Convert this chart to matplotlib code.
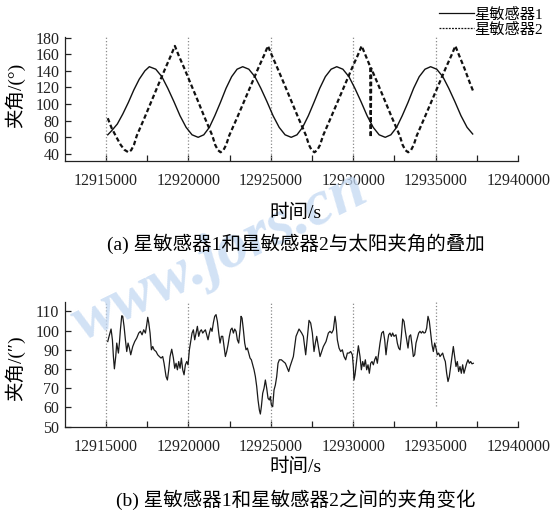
import numpy as np
import matplotlib
matplotlib.use('Agg')
from matplotlib import pyplot as plt
from matplotlib.lines import Line2D
from matplotlib.ticker import MultipleLocator, FuncFormatter

plt.rcParams['font.family'] = ['Liberation Serif', 'Noto Sans CJK SC']
plt.rcParams['axes.unicode_minus'] = False

# (a) star sensor 1 angle to sun
t1 = [12915120, 12915360, 12915700, 12916030, 12916370, 12916700, 12917030, 12917370, 12917640,
      12918030, 12918400, 12918760, 12919130, 12919500, 12919870, 12920230, 12920600,
      12920940, 12921280, 12921610, 12921950, 12922290, 12922630, 12922960, 12923300,
      12923670, 12924040, 12924400, 12924770, 12925140, 12925510, 12925870, 12926240,
      12926590, 12926930, 12927280, 12927620, 12927970, 12928310, 12928660, 12929000,
      12929370, 12929740, 12930100, 12930470, 12930840, 12931210, 12931570, 12931940,
      12932280, 12932630, 12932970, 12933320, 12933660, 12934000, 12934350, 12934690,
      12935060, 12935430, 12935790, 12936160, 12936530, 12936900, 12937240]
s1 = [63, 68, 76, 88, 102, 117, 130, 140, 145,
      142, 133, 119, 103, 86, 72, 63, 60,
      63, 72, 86, 102, 119, 133, 142, 145,
      142, 133, 119, 103, 86, 72, 63, 60,
      63, 72, 86, 102, 119, 133, 142, 145,
      142, 133, 119, 103, 86, 72, 63, 60,
      63, 72, 86, 102, 119, 133, 142, 145,
      142, 133, 119, 103, 86, 72, 64]

# (a) star sensor 2 angle to sun
t2 = [12915120, 12915360, 12915650, 12915900, 12916130, 12916370,
      12916540, 12916710, 12916880, 12917360, 12917780, 12918200, 12918630, 12918960, 12919190,
      12919410, 12919740, 12920160, 12920580, 12920990, 12921460, 12921630, 12921800, 12921960,
      12922130, 12922300, 12922480, 12922970, 12923400, 12923830, 12924260, 12924600, 12924830,
      12925060, 12925390, 12925820, 12926240, 12926660, 12927140, 12927310, 12927480, 12927650,
      12927820, 12927990, 12928170, 12928650, 12929080, 12929510, 12929940, 12930280, 12930510,
      12930740, 12931030, 12931060, 12931090, 12931500, 12931920, 12932340, 12932820, 12932990,
      12933160, 12933330,
      12933500, 12933670, 12933850, 12934330, 12934760, 12935190, 12935620, 12935960, 12936190,
      12936410, 12936740, 12937060, 12937280]
s2 = [83, 71, 60, 51, 45, 42,
      44.5, 51, 62, 84, 104, 124, 144, 159, 170,
      159, 144, 124, 104, 84, 62, 51, 44.5, 42,
      44.5, 51, 62, 84, 104, 124, 144, 159, 170,
      159, 144, 124, 104, 84, 62, 51, 44.5, 42,
      44.5, 51, 62, 84, 104, 124, 144, 159, 170,
      159, 145, 60, 143, 124, 104, 84, 62, 51,
      44.5, 42,
      44.5, 51, 62, 84, 104, 124, 144, 159, 170,
      159, 143, 126, 115]

# (b) angle between the two sensors, offsets from 12915000 s
t3_off = [120, 200, 321, 402, 463, 523, 604, 665, 766, 826, 887, 968, 1028, 1109, 1190,
          1271, 1351, 1432, 1513, 1634, 1755, 1877, 1998, 2099, 2200, 2301, 2402, 2483,
          2543, 2604, 2685, 2765, 2846, 2927, 3048, 3149, 3250, 3351, 3452, 3533, 3654,
          3735, 3816, 3897, 3998, 4099, 4179, 4260, 4341, 4422, 4503, 4583, 4664, 4745,
          4826, 4907, 4987, 5068, 5149, 5230, 5311, 5391, 5472, 5553, 5634, 5715, 5795,
          5876, 5957, 6038, 6119, 6199, 6280, 6361, 6442, 6523, 6603, 6684, 6765, 6846,
          6927, 7007, 7088, 7169, 7250, 7331, 7411, 7492, 7573, 7654, 7735, 7815, 7896,
          7977, 8058, 8139, 8199, 8260, 8341, 8421, 8502, 8583, 8664, 8745, 8825, 8906,
          8987, 9068, 9149, 9229, 9310, 9371, 9431, 9512, 9593, 9674, 9755, 9835, 9916,
          9977, 10037, 10118, 10199, 10280, 10361, 10441, 10522, 10643, 10765, 10886,
          11007, 11088, 11169, 11371, 11532, 11714, 11876, 11977, 12118, 12320, 12421,
          12522, 12623, 12704, 12785, 12886, 12987, 13088, 13189, 13350, 13492, 13593,
          13694, 13795, 13896, 13956, 14037, 14138, 14239, 14340, 14441, 14542, 14643,
          14744, 14845, 14946, 15007, 15047, 15108, 15209, 15310, 15411, 15492, 15572,
          15653, 15734, 15815, 15895, 15976, 16057, 16138, 16219, 16299, 16380, 16461,
          16542, 16623, 16724, 16825, 16906, 16986, 17067, 17148, 17229, 17310, 17390,
          17471, 17592, 17673, 17754, 17835, 17916, 17996, 18077, 18158, 18239, 18320,
          18401, 18481, 18562, 18643, 18724, 18804, 18885, 18966, 19047, 19128, 19208,
          19289, 19370, 19451, 19532, 19612, 19693, 19774, 19855, 19936, 20016, 20097,
          20178, 20259, 20340, 20420, 20501, 20582, 20663, 20744, 20824, 20905, 20986,
          21067, 21148, 21228, 21309, 21390, 21471, 21552, 21632, 21713, 21794, 21875,
          21956, 22036, 22117, 22198, 22279]
s3 = [94.3, 97.0, 100.8, 95.2, 86.5, 80.1, 86.5, 93.5, 88.3, 93.5, 100.4, 107.7, 107.4, 102.2, 95.2,
      89.1, 93.5, 90.9, 87.4, 91.7, 94.3, 96.1, 98.7, 99.6, 97.8, 100.4, 98.7, 103.0,
      106.9, 104.1, 98.7, 90.0, 91.7, 90.0, 89.1, 87.4, 86.5, 85.7, 86.5, 83.0, 76.1,
      74.3, 79.6, 86.5, 90.3, 85.7, 80.4, 83.0, 79.6, 83.9, 80.4, 85.7, 79.6, 77.0,
      82.2, 83.9, 82.2, 90.0, 94.3, 98.7, 100.4, 95.2, 98.7, 102.2, 97.0, 99.6, 100.4,
      98.7, 99.6, 100.4, 97.8, 95.2, 98.7, 101.3, 99.6, 104.1, 107.4, 108.3, 104.8, 98.7,
      93.5, 97.0, 97.0, 91.7, 86.5, 89.1, 92.6, 97.0, 100.4, 101.3, 98.7, 100.8, 99.6,
      95.2, 93.5, 100.4, 107.4, 106.5, 100.4, 93.5, 90.0, 90.9, 88.3, 85.7, 84.8, 82.2,
      79.6, 76.1, 70.9, 63.9, 58.7, 56.6, 60.4, 67.4, 70.0, 74.3, 70.0, 64.8, 63.9,
      65.7, 61.3, 60.4, 69.1, 71.7, 76.1, 83.0, 84.8, 84.8, 83.9, 83.0,
      80.4, 78.7, 81.3, 86.5, 97.0, 100.8, 98.7, 97.0, 87.4, 105.3, 103.9,
      98.7, 89.1, 93.5, 97.0, 91.7, 86.5, 89.1, 91.7, 94.3, 98.7, 99.6,
      98.7, 100.4, 107.4, 103.9, 95.2, 90.9, 89.1, 90.0, 86.5, 84.8, 88.3,
      88.3, 89.1, 87.4, 81.3, 74.3, 77.0, 84.8, 92.1, 86.5, 79.6, 83.9,
      81.3, 84.8, 79.6, 82.2, 77.8, 83.0, 83.9, 82.2, 84.8, 86.5, 83.0,
      88.3, 93.5, 98.7, 99.6, 95.2, 87.4, 93.5, 97.8, 98.7, 97.0, 98.7,
      97.0, 97.8, 93.5, 90.9, 90.0, 97.0, 106.0, 104.8, 99.6, 95.2, 90.9,
      97.0, 97.8, 92.6, 86.5, 87.4, 93.5, 96.1, 98.7, 99.6, 98.7, 99.6,
      98.7, 99.0, 101.3, 107.4, 104.8, 98.7, 92.6, 89.1, 93.5, 90.9, 87.4,
      88.3, 86.5, 87.4, 88.3, 85.7, 83.9, 77.8, 73.5, 76.1, 81.3, 86.5,
      91.7, 86.5, 81.3, 83.9, 78.7, 81.3, 77.8, 82.2, 77.8, 80.4, 83.0,
      84.8, 83.0, 83.9, 82.7, 83.0]
t3 = [12915000 + o for o in t3_off]

marks = [12915000, 12920000, 12925000, 12930000, 12935000]
legend_labels = ['星敏感器1', '星敏感器2']

fig = plt.figure(figsize=(5.51, 5.14), dpi=100)
ax1 = fig.add_axes([0.118, 0.6868, 0.8225, 0.2416])
ax2 = fig.add_axes([0.118, 0.1698, 0.8225, 0.2432])

# vertical reference lines
ax1.vlines(marks, 31.5, 181, colors='#8a8a8a', linestyles=':', linewidth=0.9, clip_on=False)
ax2.vlines(marks[:4], 50, 115, colors='#8a8a8a', linestyles=':', linewidth=0.9)
ax2.vlines(marks[4:], 61, 115, colors='#8a8a8a', linestyles=':', linewidth=0.9)

ax1.plot(t1, s1, color='#111111', lw=1.0)
ax1.plot(t2, s2, color='#111111', lw=1.6, linestyle=(0, (2.0, 1.2)))
ax2.plot(t3, s3, color='#1a1a1a', lw=0.9)

ax1.set_ylim(31.5, 181)
ax2.set_ylim(50, 115)
ax1.set_yticks(range(40, 181, 20))
ax2.yaxis.set_major_locator(MultipleLocator(10))

fmt = FuncFormatter(lambda v, p: '%d' % v if round(v) % 5000 == 0 else '')
for ax in (ax1, ax2):
    ax.set_xlim(12912530, 12940000)
    ax.xaxis.set_major_locator(MultipleLocator(2500))
    ax.xaxis.set_major_formatter(fmt)
    ax.spines['top'].set_visible(False)
    ax.spines['right'].set_visible(False)
    for sp in ('left', 'bottom'):
        ax.spines[sp].set_linewidth(0.9)
        ax.spines[sp].set_color('#222222')
    ax.tick_params(direction='in', length=4, width=0.9, labelsize=11.5,
                   colors='#222222')
    ax.tick_params(axis='x', pad=9)
    ax.tick_params(axis='y', pad=4)

# legend in the upper right corner
handles = [Line2D([], [], color='#111111', lw=0.9),
           Line2D([], [], color='#111111', lw=0.9, linestyle=(0, (1.5, 1.0)))]
fig.legend(handles, legend_labels, loc='upper right', bbox_to_anchor=(0.985, 0.985),
           frameon=False, fontsize=11, handlelength=2.3, handletextpad=0.0,
           labelspacing=0.05, borderaxespad=0, borderpad=0)

# axis titles and captions
fig.text(0.027, 0.815, '夹角/(°)', rotation=90, ha='center', va='center', fontsize=14)
fig.text(0.027, 0.284, '夹角/(″)', rotation=90, ha='center', va='center', fontsize=14)
fig.text(0.537, 0.586, '时间/s', ha='center', va='center', fontsize=14)
fig.text(0.537, 0.525, '(a) 星敏感器1和星敏感器2与太阳夹角的叠加', ha='center', va='center', fontsize=14)
fig.text(0.537, 0.091, '时间/s', ha='center', va='center', fontsize=14)
fig.text(0.537, 0.027, '(b) 星敏感器1和星敏感器2之间的夹角变化', ha='center', va='center', fontsize=14)

# watermark
fig.text(0.40, 0.50, 'www.jors.cn', rotation=26, ha='center', va='center', fontsize=46,
         fontweight='bold', fontstyle='italic', color='#c3d8f2', alpha=0.75, zorder=0)

plt.savefig('out.png', dpi=100)
